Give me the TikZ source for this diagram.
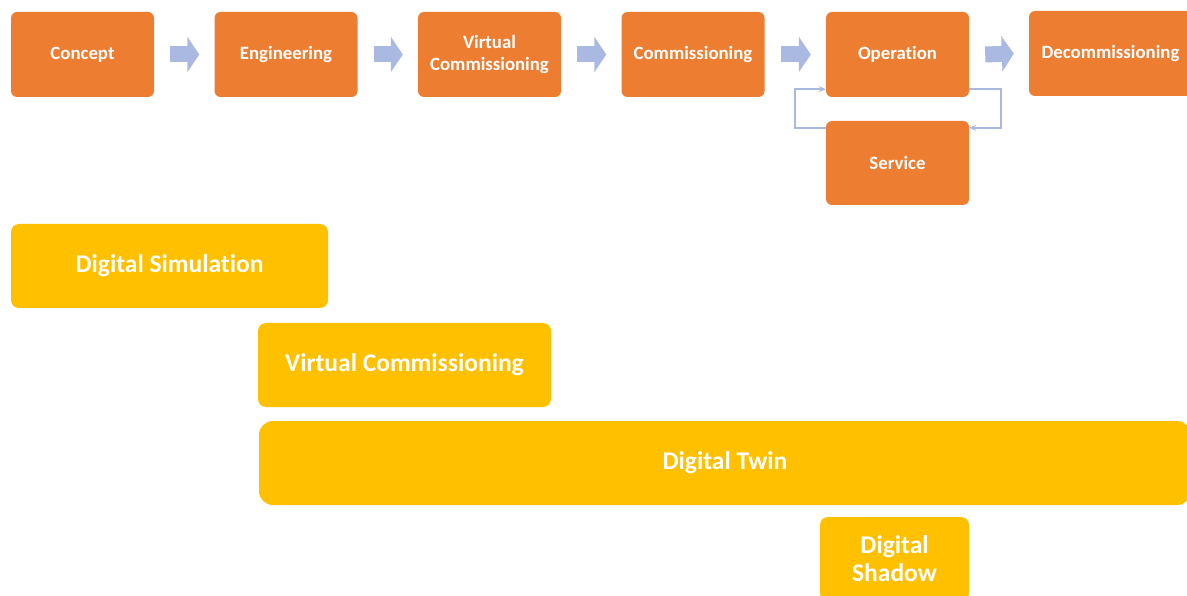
\documentclass[tikz,border=0pt]{standalone}
\usepackage{fontspec}
\setmainfont[Ligatures=NoCommon]{Carlito}
\usetikzlibrary{arrows.meta}
\definecolor{PhaseOrange}{RGB}{237,125,49}
\definecolor{LayerYellow}{RGB}{255,192,0}
\definecolor{FlowBlue}{RGB}{170,185,225}
\begin{document}
\begin{tikzpicture}[x=1pt,y=-1pt,
    phase/.style={fill=PhaseOrange,rounded corners=6pt,minimum width=143pt,minimum height=85pt,
      text=white,font=\fontsize{18.8}{21}\selectfont\bfseries,align=center,inner sep=0pt},
    layer/.style={fill=LayerYellow,rounded corners=8pt,minimum height=84pt,
      text=white,font=\fontsize{25.5}{28}\selectfont\bfseries,align=center,inner sep=0pt},
    flow/.style={FlowBlue,line width=16pt,-{Triangle[length=12pt,width=35pt]}},
    loopline/.style={FlowBlue,line width=1.5pt,-{Stealth[length=7pt,width=6pt]}}]
        \useasboundingbox (0,0) rectangle (1187,596);

        % life cycle phases
        \node[phase] (Concept) at (82.5,54.5) {Concept};
        \node[phase] (Engineering) at (286,54.5) {Engineering};
        \node[phase] (VirtComm) at (489.5,54.5) {Virtual\\Commissioning};
        \node[phase] (Commissioning) at (693,54.5) {Commissioning};
        \node[phase] (Operation) at (897.5,54.5) {Operation};
        \node[phase,minimum width=163pt] (Decommissioning) at (1110.5,53.5) {Decommissioning};
        \node[phase,minimum height=84pt] (Service) at (897.5,163) {Service};

        \draw[flow] ([xshift=16pt]Concept.east) -- ([xshift=-15pt]Engineering.west);
        \draw[flow] ([xshift=16pt]Engineering.east) -- ([xshift=-15pt]VirtComm.west);
        \draw[flow] ([xshift=16pt]VirtComm.east) -- ([xshift=-15pt]Commissioning.west);
        \draw[flow] ([xshift=16pt]Commissioning.east) -- ([xshift=-15pt]Operation.west);
        \draw[flow] ([xshift=16pt]Operation.east) -- ([xshift=-15pt]Decommissioning.west);

        % service loop
        \draw[loopline] ([yshift=-7pt]Service.north west) -- ++(-31,0) |- ([yshift=8pt]Operation.south west);
        \draw[loopline] ([yshift=8pt]Operation.south east) -- ++(32,0) |- ([yshift=-7pt]Service.north east);

        % digital layers
        \node[layer,minimum width=317pt] (DigSim) at (169.5,266) {Digital Simulation};
        \node[layer,minimum width=293pt] (VirtCommLayer) at (404.5,365) {Virtual Commissioning};
        \node[layer,minimum width=932pt,rounded corners=14pt] (DigTwin) at (725,463) {Digital Twin};
        \node[layer,minimum width=149pt] (DigShadow) at (894.5,559) {Digital\\Shadow};
\end{tikzpicture}
\end{document}
